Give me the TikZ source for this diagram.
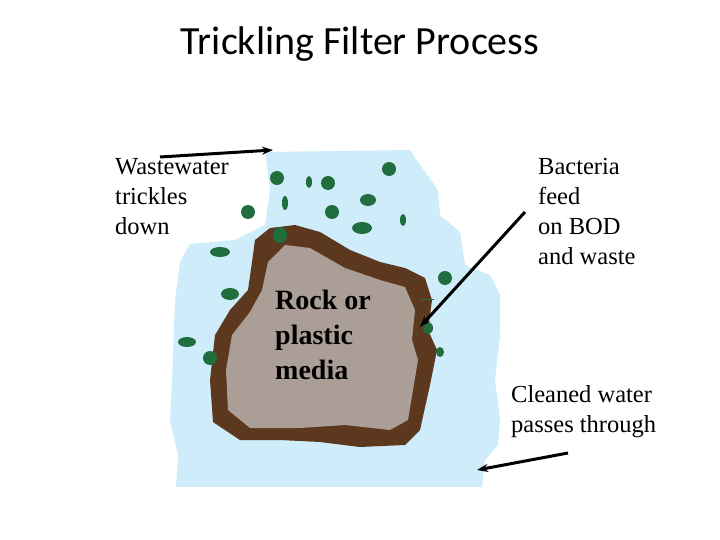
\documentclass[tikz,border=0pt]{standalone}
\usepackage{fontspec}
\setmainfont{Liberation Serif}
\newfontfamily\titlefont{Carlito}
\usetikzlibrary{arrows.meta}
\begin{document}
\begin{tikzpicture}[x=1pt,y=-1pt,
  lbl/.style={anchor=north west,align=left,inner sep=0pt,font=\fontsize{24.5}{30}\selectfont},
  blob/.style={fill=greenb,draw=none},
  arr/.style={line width=3pt,-{Stealth[length=11pt,width=8pt]}}]
\useasboundingbox (0,0) rectangle (720,540);
\definecolor{water}{RGB}{206,236,250}
\definecolor{brownr}{RGB}{92,56,30}
\definecolor{greyr}{RGB}{170,158,150}
\definecolor{greenb}{RGB}{32,110,62}
\node[font=\titlefont\fontsize{40}{44}\selectfont] (title) at (360,44) {Trickling Filter Process};
% water
\fill[water] (265,152) -- (410,150) -- (420,165) -- (438,190) -- (440,215) -- (460,232) -- (465,265) -- (490,275) -- (500,295) -- (500,335) -- (495,380) -- (500,420) -- (498,445) -- (485,460) -- (482,487) -- (176,487) -- (178,455) -- (170,420) -- (172,380) -- (175,300) -- (180,262) -- (190,244) -- (235,240) -- (265,225) -- (270,190) -- cycle;
% rock
\fill[brownr] (255,240) -- (270,228) -- (295,225) -- (320,232) -- (350,250) -- (380,262) -- (405,268) -- (425,278) -- (432,300) -- (428,330) -- (437,350) -- (430,385) -- (420,430) -- (405,445) -- (360,447) -- (320,442) -- (280,440) -- (240,440) -- (213,422) -- (210,380) -- (215,335) -- (230,310) -- (248,290) -- (252,262) -- cycle;
\fill[greyr] (268,262) -- (285,245) -- (310,248) -- (345,268) -- (380,280) -- (405,287) -- (415,310) -- (412,340) -- (418,360) -- (408,420) -- (390,430) -- (345,425) -- (300,428) -- (250,428) -- (228,410) -- (226,370) -- (232,335) -- (250,312) -- (262,290) -- cycle;
% green blobs
\foreach \x/\y/\a/\b in {277/178/7/7,309/182/3/6,328/183/7/7,389/169/7/7,368/200/8/6,285/203/3/7,332/212/7/7,403/220/3/6,248/212/7/7,280/235/7/8,362/228/10/6,220/252/10/5,230/294/9/6,445/278/7/7,428/328/5/6,440/352/4/5,187/342/9/5,210/358/7/7}
  \fill[blob] (\x,\y) ellipse ({\a} and {\b});
\draw[greenb,line width=1pt] (420,299) -- (434,299);
% texts
\node[lbl] (ww) at (115,158) {Wastewater\\trickles\\down};
\node[lbl] (bac) at (538,158) {Bacteria\\feed\\on BOD\\and waste};
\node[lbl] (cw) at (511,385) {Cleaned water\\passes through};
\node[lbl,font=\bfseries\fontsize{28}{35}\selectfont] (rock) at (275,290) {Rock or\\plastic\\media};
% arrows
\coordinate (a1) at (160,157); \coordinate (a2) at (273,150);
\coordinate (b1) at (525,212); \coordinate (b2) at (420,327);
\coordinate (c1) at (568,453); \coordinate (c2) at (477,470);
\draw[arr] (a1) -- (a2);
\draw[arr] (b1) -- (b2);
\draw[arr] (c1) -- (c2);
\end{tikzpicture}
\end{document}
